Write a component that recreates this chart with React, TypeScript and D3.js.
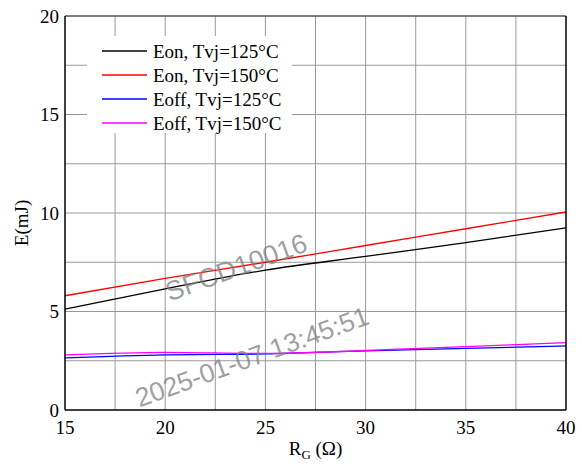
import React from "react";
import * as d3 from "d3";

const rg = [15, 20, 25, 30, 35, 40];
const eon125 = [5.12, 6.15, 7.1, 7.8, 8.5, 9.25];
const eon150 = [5.8, 6.68, 7.5, 8.35, 9.2, 10.05];
const eoff125 = [2.65, 2.8, 2.85, 3.0, 3.13, 3.25];
const eoff150 = [2.8, 2.93, 2.87, 3.02, 3.22, 3.42];
const xTicks = [15, 20, 25, 30, 35, 40];
const yTicks = [0, 5, 10, 15, 20];
const seriesNames = ["Eon, Tvj=125°C", "Eon, Tvj=150°C", "Eoff, Tvj=125°C", "Eoff, Tvj=150°C"];
const seriesColors = ["#000000", "#ff0000", "#0000ff", "#ff00ff"];

const W = 582, H = 469;
const L = 65, R = 566, T = 16, B = 410;
const FONT = "'Liberation Serif', 'Times New Roman', serif";
const FS = 19;

export default function App() {
  const x = d3.scaleLinear().domain([15, 40]).range([L, R]);
  const y = d3.scaleLinear().domain([0, 20]).range([B, T]);
  const gridX = d3.range(17.5, 40, 2.5);
  const gridY = d3.range(2.5, 20, 2.5);
  const series = [eon125, eon150, eoff125, eoff150];
  const line = d3
    .line<number>()
    .x((_, i) => x(rg[i]))
    .y((d) => y(d))
    .curve(d3.curveMonotoneX);

  return (
    <svg width={W} height={H} style={{ position: "absolute", left: 0, top: 0 }} fontFamily={FONT}>
      <rect x={0} y={0} width={W} height={H} fill="#fff" />
      {gridX.map((g) => (
        <line key={"gx" + g} x1={x(g)} x2={x(g)} y1={T} y2={B} stroke="#9a9a9a" strokeWidth={1} />
      ))}
      {gridY.map((g) => (
        <line key={"gy" + g} x1={L} x2={R} y1={y(g)} y2={y(g)} stroke="#9a9a9a" strokeWidth={1} />
      ))}
      {/* legend background */}
      <rect x={87} y={36} width={205} height={97} fill="#fff" />
      {series.map((s, i) => (
        <path key={"s" + i} d={line(s) || ""} fill="none" stroke={seriesColors[i]} strokeWidth={1.3} />
      ))}
      {/* frame */}
      <line x1={L} x2={R} y1={T} y2={T} stroke="#555" strokeWidth={1.3} />
      <line x1={R} x2={R} y1={T} y2={B} stroke="#000" strokeWidth={1.5} />
      <line x1={L} x2={L} y1={T} y2={B} stroke="#000" strokeWidth={1.5} />
      <line x1={L} x2={R} y1={B} y2={B} stroke="#000" strokeWidth={1.5} />
      {/* ticks */}
      {yTicks.map((t) => (
        <text key={"yt" + t} x={L - 6} y={y(t) + 6.5} textAnchor="end" fontSize={FS} fill="#000">
          {t}
        </text>
      ))}
      {xTicks.map((t) => (
        <text key={"xt" + t} x={x(t)} y={B + 23.5} textAnchor="middle" fontSize={FS} fill="#000">
          {t}
        </text>
      ))}
      {/* axis titles */}
      <text transform={`translate(28,${(T + B) / 2 + 10}) rotate(-90)`} textAnchor="middle" fontSize={FS} fill="#000">
        E(mJ)
      </text>
      <text x={(L + R) / 2} y={455} textAnchor="middle" fontSize={FS} fill="#000">
        R<tspan fontSize={13} dy={4}>G</tspan>
        <tspan dy={-4}> (Ω)</tspan>
      </text>
      {/* legend */}
      {seriesNames.map((n, i) => (
        <g key={"lg" + i}>
          <line x1={102} x2={147} y1={51 + i * 24} y2={51 + i * 24} stroke={seriesColors[i]} strokeWidth={1.3} />
          <text x={153} y={57.5 + i * 24} fontSize={FS} fill="#000">
            {n}
          </text>
        </g>
      ))}
      {/* watermarks */}
      <text
        transform="translate(169.5,301.5) rotate(-20)"
        fontFamily="'Liberation Sans', Arial, sans-serif"
        fontSize={27}
        fill="#808080"
        fillOpacity={0.75}
      >
        SFCD10016
      </text>
      <text
        transform="translate(139.5,407.5) rotate(-20)"
        fontFamily="'Liberation Sans', Arial, sans-serif"
        fontSize={26.5}
        fill="#808080"
        fillOpacity={0.75}
      >
        2025-01-07 13:45:51
      </text>
    </svg>
  );
}
